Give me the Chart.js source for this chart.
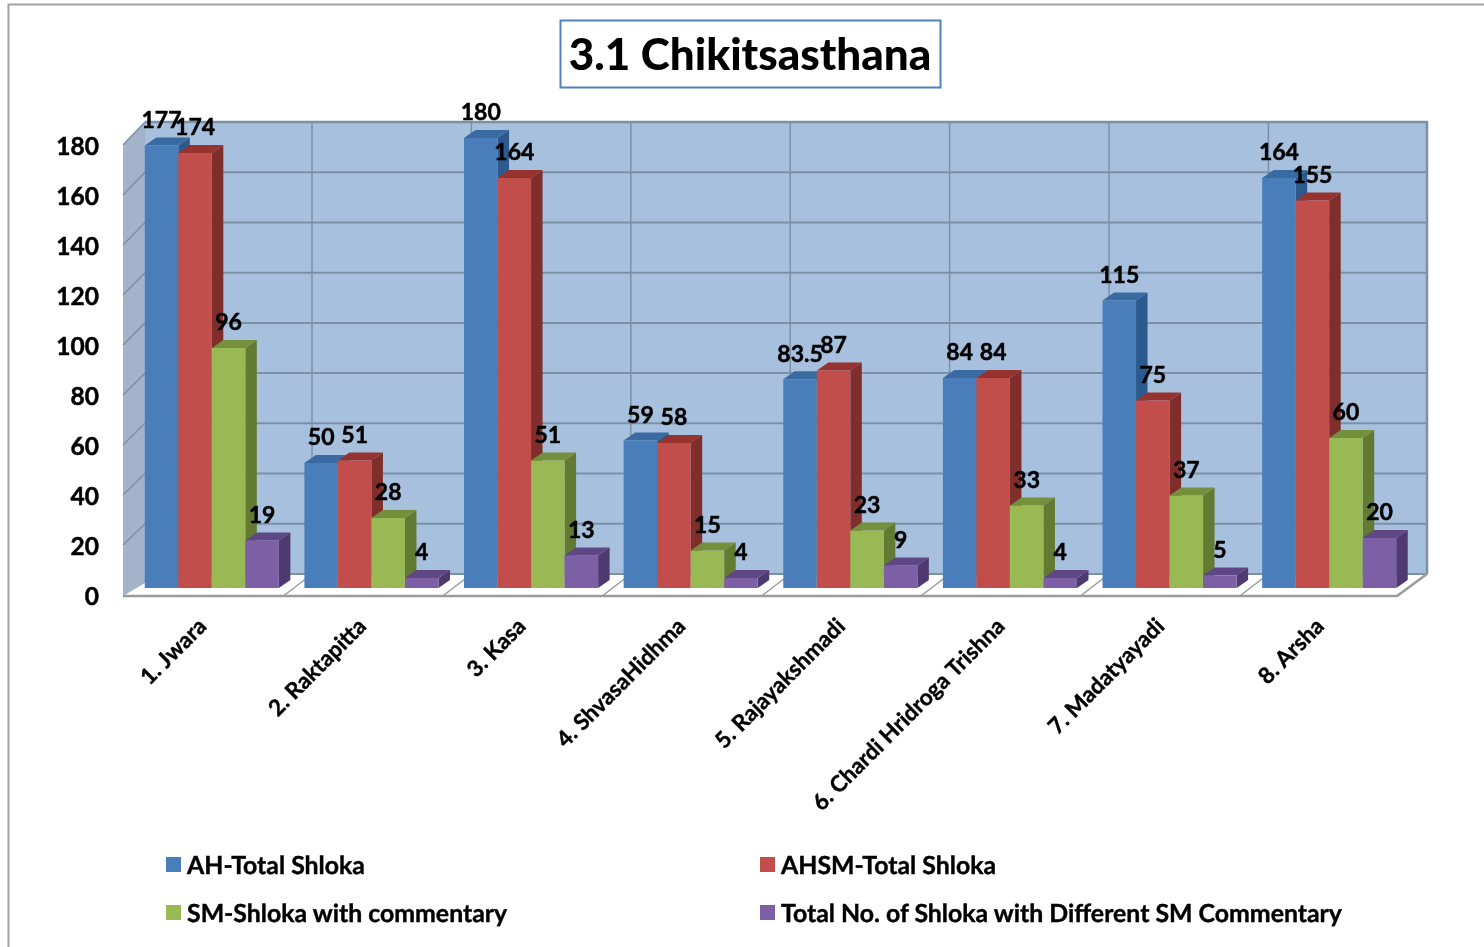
<!DOCTYPE html>
<html><head><meta charset="utf-8">
<script src="https://cdn.jsdelivr.net/npm/chart.js@4"></script>
<style>html,body{margin:0;padding:0;background:#fff}canvas{display:block}</style>
</head><body>
<canvas id="c" width="1484" height="947"></canvas>
<script>
const categories = ["1. Jwara","2. Raktapitta","3. Kasa","4. ShvasaHidhma","5. Rajayakshmadi","6. Chardi Hridroga Trishna","7. Madatyayadi","8. Arsha"];
const ahTotal = [177,50,180,59,83.5,84,115,164];
const ahsmTotal = [174,51,164,58,87,84,75,155];
const smCommentary = [96,28,51,15,23,33,37,60];
const differentSm = [19,4,13,4,9,4,5,20];
const seriesNames = ["AH-Total Shloka","AHSM-Total Shloka","SM-Shloka with commentary","Total No. of Shloka with Different SM Commentary"];
const frontColors = ["#4a7ebb","#c24e4b","#98b954","#7d5fa5"];
const sideColors = ["#2c5a8e","#7f2e2b","#637a32","#4e3a70"];
const topColors = ["#3a6aa2","#96332f","#74903c","#5f4785"];
const FONT = "Lato, Carlito, 'Open Sans', sans-serif";
const DX = 11.5, DY = 8;

const scene = {
  id:'scene',
  beforeDraw(chart){
    const c = chart.ctx;
    c.save();
    c.fillStyle='#fff'; c.fillRect(0,0,chart.width,chart.height);
    c.strokeStyle='#a3a3a3'; c.lineWidth=2;
    c.beginPath(); c.moveTo(8.5,947); c.lineTo(8.5,4.5); c.lineTo(1484,4.5); c.stroke();
    c.strokeStyle='#4f81bd'; c.lineWidth=2;
    c.strokeRect(560.5,20.5,380,67);
    c.restore();
  },
  beforeDatasetsDraw(chart){
    const c = chart.ctx, y = chart.scales.y;
    const L=145,R=1427,T=y.getPixelForValue(180)-16,B=y.getPixelForValue(0)-14;
    const FL=123,FR=1397,FB=596;
    c.save();
    c.fillStyle='#ffffff';
    c.beginPath();c.moveTo(FL,FB);c.lineTo(L,B);c.lineTo(R,B);c.lineTo(FR,FB);c.closePath();c.fill();
    c.fillStyle='#a6c0de';
    c.fillRect(L,T,R-L,B-T);
    c.fillStyle='#a3b4ca';
    c.beginPath();c.moveTo(FL,T+23);c.lineTo(L,T);c.lineTo(L,B+9);c.lineTo(FL,FB);c.closePath();c.fill();
    c.strokeStyle='#7c90a8'; c.lineWidth=2;
    y.ticks.forEach(t=>{
      const p=y.getPixelForValue(t.value);
      const yb=p-14-2*t.value/180;
      c.beginPath();c.moveTo(L,yb);c.lineTo(R,yb);c.stroke();
      if(t.value>0){c.lineWidth=1.5;c.beginPath();c.moveTo(FL,p+7);c.lineTo(L,yb);c.stroke();c.lineWidth=2;}
    });
    c.lineWidth=1.5;
    for(let k=1;k<categories.length;k++){
      const xb=152.6+159.4*k;
      c.strokeStyle='#7c90a8';
      c.beginPath();c.moveTo(xb,T);c.lineTo(xb,B);c.stroke();
      c.strokeStyle='#9a9a9a';
      c.beginPath();c.moveTo(FL+159.4*k+1,FB);c.lineTo(xb,B);c.stroke();
    }
    c.strokeStyle='#7c90a8';
    c.lineWidth=2.5;
    c.beginPath();c.moveTo(L,T);c.lineTo(R,T);c.lineTo(R,B);c.stroke();
    c.strokeStyle='#9a9a9a';
    c.beginPath();c.moveTo(R,B);c.lineTo(FR,FB);c.lineTo(FL,FB);c.stroke();
    c.restore();
  },
  beforeDatasetDraw(){ return false; },
  afterDatasetsDraw(chart){
    const c = chart.ctx;
    chart.data.datasets.forEach((ds,i)=>{
      const meta = chart.getDatasetMeta(i);
      meta.data.forEach(el=>{
        const {x,y,base,width} = el.getProps(['x','y','base','width'],true);
        const r = x+width/2, l = x-width/2;
        c.fillStyle = sideColors[i];
        c.beginPath();c.moveTo(r,y);c.lineTo(r+DX,y-DY);c.lineTo(r+DX,base-DY);c.lineTo(r,base);c.closePath();c.fill();
        c.fillStyle = topColors[i];
        c.beginPath();c.moveTo(l,y);c.lineTo(l+DX,y-DY);c.lineTo(r+DX,y-DY);c.lineTo(r,y);c.closePath();c.fill();
        el.draw(c);
      });
    });
    c.save();
    c.fillStyle='#000'; c.strokeStyle='#000'; c.lineWidth=0.5; c.lineJoin='round';
    c.font='bold 23px '+FONT; c.textAlign='center'; c.textBaseline='middle';
    chart.data.datasets.forEach((ds,i)=>{
      chart.getDatasetMeta(i).data.forEach((el,j)=>{
        const p = el.getProps(['x','y'],true);
        c.fillText(String(ds.data[j]), p.x, p.y-25);
        c.strokeText(String(ds.data[j]), p.x, p.y-25);
      });
    });
    c.restore();
  },
  afterDraw(chart){
    const c = chart.ctx;
    c.save();
    c.textRendering='geometricPrecision';
    c.font='bold 24.85px '+FONT; c.textBaseline='middle'; c.textAlign='left';
    c.lineWidth=0.4; c.strokeStyle='#000';
    const slots=[[166,865],[760,865],[166,913],[760,913]];
    chart.data.datasets.forEach((ds,i)=>{
      const [x,yy]=slots[i];
      c.fillStyle=frontColors[i]; c.fillRect(x,yy-8,15,15);
      c.fillStyle='#000'; c.fillText(ds.label,x+21,yy+0.5); c.strokeText(ds.label,x+21,yy+0.5);
    });
    c.restore();
  }
};

new Chart(document.getElementById('c'),{
  type:'bar',
  data:{labels:categories,datasets:[ahTotal,ahsmTotal,smCommentary,differentSm].map((d,i)=>({
    label:seriesNames[i],data:d,backgroundColor:frontColors[i],borderWidth:0,
    barPercentage:1,categoryPercentage:0.84
  }))},
  options:{
    responsive:false,animation:false,devicePixelRatio:1,
    layout:{padding:{left:16,right:0,top:0,bottom:0}},
    plugins:{
      legend:{display:false},tooltip:{enabled:false},
      title:{display:true,text:"3.1 Chikitsasthana",color:'#000',
        font:{family:FONT,size:44,weight:'900',lineHeight:1.2},padding:{top:29.5,bottom:55.7}}
    },
    scales:{
      x:{grid:{display:false,drawTicks:false},border:{display:false},
        afterFit(s){s.height=359;},
        ticks:{color:'#000',autoSkip:false,minRotation:45,maxRotation:45,padding:25,labelOffset:-9,
          textStrokeColor:'#000',textStrokeWidth:0.4,
          font:{family:FONT,size:22.5,weight:'bold'}}},
      y:{min:0,max:180,grid:{display:false,drawTicks:false},border:{display:false},
        afterFit(s){s.width=116;},
        ticks:{color:'#000',stepSize:20,padding:33,labelOffset:9.5,
          textStrokeColor:'#000',textStrokeWidth:0.5,
          font:{family:FONT,size:24.5,weight:'bold'}}},
      rightSpacer:{type:'linear',axis:'y',position:'right',min:0,max:1,
        grid:{display:false,drawTicks:false},border:{display:false},
        ticks:{display:false},afterFit(s){s.width=75;}}
    }
  },
  plugins:[scene]
});
</script>
</body></html>
